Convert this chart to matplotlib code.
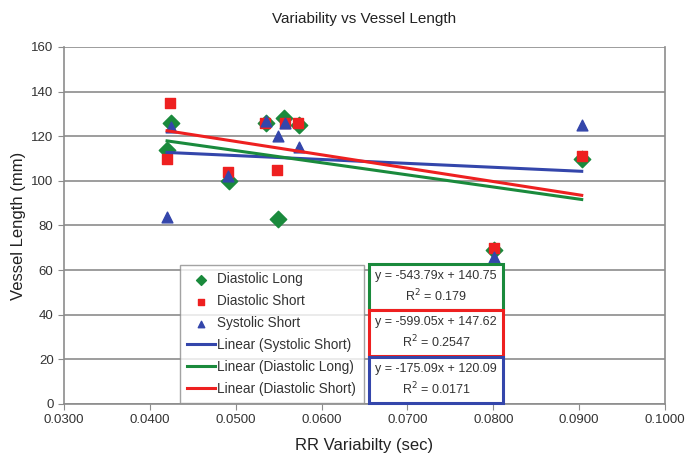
import numpy as np
from matplotlib import pyplot as plt

plt.rcParams['font.family'] = ['Liberation Sans', 'DejaVu Sans']

# data
x_dl = [0.0425, 0.0420, 0.0492, 0.0535, 0.0549, 0.0556, 0.0574, 0.0801, 0.0903]
y_dl = [126, 114, 100, 126, 83, 128, 125, 69, 110]

x_ds = [0.0423, 0.0420, 0.0491, 0.0534, 0.0548, 0.0557, 0.0572, 0.0801, 0.0903]
y_ds = [135, 110, 104, 126, 105, 126, 126, 70, 111]

x_ss = [0.0420, 0.0425, 0.0491, 0.0535, 0.0549, 0.0557, 0.0574, 0.0801, 0.0903]
y_ss = [84, 124, 102, 127, 120, 126, 115, 66, 125]

# trendline coefficients (slope, intercept, r2)
fit_ss = (-175.09, 120.09, 0.0171)
fit_dl = (-543.79, 140.75, 0.179)
fit_ds = (-599.05, 147.62, 0.2547)

green = '#1a8a3c'
red = '#ee2020'
blue = '#3446ab'

fig = plt.figure(figsize=(6.93, 4.68), dpi=100)
ax = fig.add_axes([0.0924, 0.1368, 0.8672, 0.7628])

ax.scatter(x_dl, y_dl, marker='D', s=70, color=green, label='Diastolic Long', zorder=3)
ax.scatter(x_ds, y_ds, marker='s', s=60, color=red, label='Diastolic Short', zorder=3)
ax.scatter(x_ss, y_ss, marker='^', s=60, color=blue, label='Systolic Short', zorder=3)

def trend(xs, fit, color, label):
    xl = np.array([min(xs), max(xs)])
    ax.plot(xl, fit[0] * xl + fit[1], color=color, lw=2.2, label=label, zorder=4)

trend(x_ss, fit_ss, blue, 'Linear (Systolic Short)')
trend(x_dl, fit_dl, green, 'Linear (Diastolic Long)')
trend(x_ds, fit_ds, red, 'Linear (Diastolic Short)')

ax.set_xlim(0.03, 0.10)
ax.set_ylim(0, 160)
ax.set_xticks(np.arange(0.03, 0.1001, 0.01))
ax.set_xticklabels(['%.4f' % v for v in np.arange(0.03, 0.1001, 0.01)])
ax.set_yticks(range(0, 161, 20))
ax.yaxis.grid(True, color='#8c8c8c', lw=1.2)
ax.set_axisbelow(True)
ax.spines['top'].set_visible(False)
for s in ['left', 'bottom', 'right']:
    ax.spines[s].set_color('#8c8c8c')
    ax.spines[s].set_linewidth(1.2)
ax.tick_params(axis='both', colors='#8c8c8c', labelcolor='#333333', labelsize=9.5,
               direction='out', length=4)

ax.set_title('Variability vs Vessel Length', fontsize=11, pad=17, color='#222222')
ax.set_xlabel('RR Variabilty (sec)', fontsize=12, labelpad=8, color='#222222')
ax.set_ylabel('Vessel Length (mm)', fontsize=12, labelpad=4, color='#222222')

leg = ax.legend(loc='upper left', bbox_to_anchor=(180 / 693, 1 - 265 / 468),
                bbox_transform=fig.transFigure, fontsize=9.8, frameon=True,
                fancybox=False, edgecolor='#8c8c8c', handlelength=2.0,
                handletextpad=0.2, borderpad=0.55, labelspacing=0.58,
                borderaxespad=0, markerscale=0.6)
leg.get_frame().set_linewidth(1.0)
leg.set_zorder(6)
for t in leg.get_texts():
    t.set_color('#333333')

boxes = [(fit_dl, green, 287), (fit_ds, red, 333), (fit_ss, blue, 380)]
for fit, color, yc in boxes:
    txt = 'y = %.2fx + %.2f\nR$^2$ = %s' % (fit[0], fit[1], fit[2])
    fig.text(436 / 693, 1 - yc / 468, txt, ha='center', va='center', fontsize=9,
             linespacing=1.4, zorder=7, color='#333333',
             bbox=dict(boxstyle='square,pad=0.5', fc='white', ec=color, lw=2.2))

fig.savefig('out.png', dpi=100)
